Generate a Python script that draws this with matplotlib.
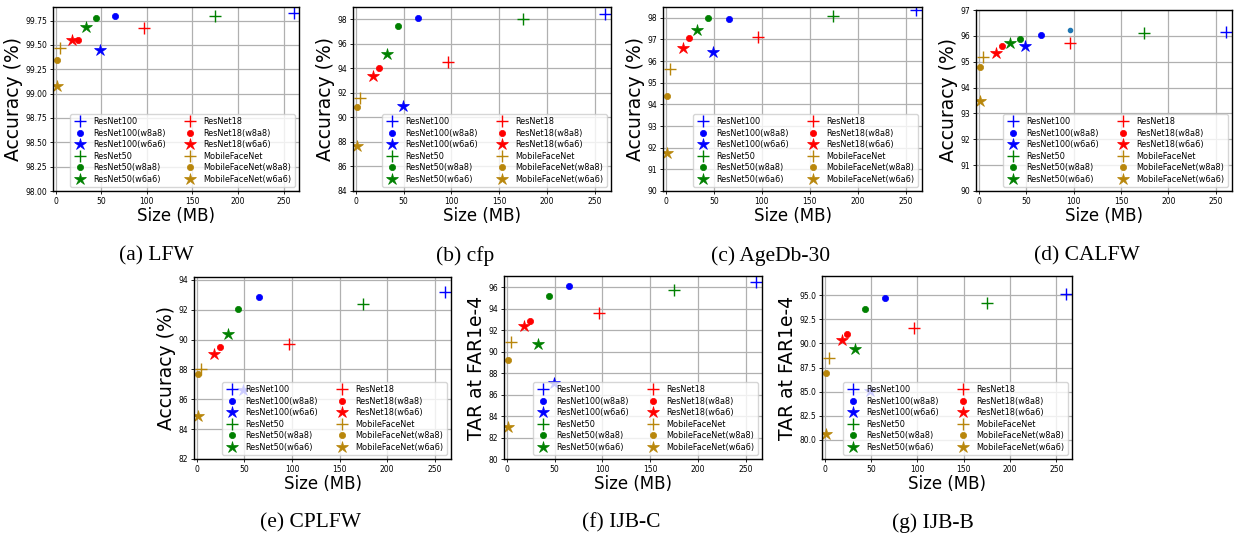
import matplotlib
matplotlib.use("Agg")
import matplotlib.pyplot as plt

# Model sizes (MB): full precision, w8a8, w6a6
SIZES = {
    "ResNet100": [261.0, 65.3, 49.0],
    "ResNet50": [174.7, 43.7, 32.8],
    "ResNet18": [96.5, 24.1, 18.1],
    "MobileFaceNet": [4.5, 1.1, 0.85],
}
MODELS = ["ResNet100", "ResNet50", "ResNet18", "MobileFaceNet"]
COLORS = ["blue", "green", "red", "#b8860b"]
VARIANTS = ["", "(w8a8)", "(w6a6)"]
MARKERS = ["+", "o", "*"]

# Scores per benchmark: model -> [full, w8a8, w6a6]
LFW = {"ResNet100": [99.83, 99.80, 99.45], "ResNet50": [99.80, 99.78, 99.68],
       "ResNet18": [99.67, 99.55, 99.55], "MobileFaceNet": [99.47, 99.35, 99.08]}
CFP = {"ResNet100": [98.41, 98.14, 90.97], "ResNet50": [98.00, 97.45, 95.20],
       "ResNet18": [94.48, 94.05, 93.36], "MobileFaceNet": [91.60, 90.85, 87.66]}
AGEDB = {"ResNet100": [98.34, 97.95, 96.43], "ResNet50": [98.08, 97.97, 97.43],
         "ResNet18": [97.12, 97.06, 96.62], "MobileFaceNet": [95.62, 94.37, 91.77]}
CALFW = {"ResNet100": [96.13, 96.04, 95.60], "ResNet50": [96.10, 95.88, 95.71],
         "ResNet18": [95.71, 95.60, 95.34], "MobileFaceNet": [95.17, 94.79, 93.50]}
CALFW_EXTRA = (95.7, 96.23)  # stray small blue dot in the original
CPLFW = {"ResNet100": [93.22, 92.89, 86.60], "ResNet50": [92.40, 92.06, 90.39],
         "ResNet18": [89.72, 89.54, 89.05], "MobileFaceNet": [88.00, 87.70, 84.87]}
IJBC = {"ResNet100": [96.47, 96.09, 87.07], "ResNet50": [95.75, 95.19, 90.73],
        "ResNet18": [93.58, 92.90, 92.43], "MobileFaceNet": [90.91, 89.24, 83.00]}
IJBB = {"ResNet100": [95.17, 94.69, 85.03], "ResNet50": [94.17, 93.61, 89.44],
        "ResNet18": [91.60, 90.97, 90.31], "MobileFaceNet": [88.50, 86.94, 80.59]}

PANELS = [
    ("(a) LFW", LFW, "Accuracy (%)", (98.0, 99.89), [98.0 + 0.25 * i for i in range(8)], "{:.2f}"),
    ("(b) cfp", CFP, "Accuracy (%)", (84, 99.0), list(range(84, 99, 2)), "{:.0f}"),
    ("(c) AgeDb-30", AGEDB, "Accuracy (%)", (90, 98.5), list(range(90, 99)), "{:.0f}"),
    ("(d) CALFW", CALFW, "Accuracy (%)", (90, 97), list(range(90, 98)), "{:.0f}"),
    ("(e) CPLFW", CPLFW, "Accuracy (%)", (82, 94.2), list(range(82, 95, 2)), "{:.0f}"),
    ("(f) IJB-C", IJBC, "TAR at FAR1e-4", (80, 97.05), list(range(80, 97, 2)), "{:.0f}"),
    ("(g) IJB-B", IJBB, "TAR at FAR1e-4", (78, 97), [80.0 + 2.5 * i for i in range(7)], "{:.1f}"),
]

# axes boxes in pixels: left, top, right, bottom ; caption centre x, y
W, H = 1239, 537
BOXES = [
    (53, 7, 299, 191, 156, 256),
    (353, 7, 611, 191, 465, 256),
    (663, 7, 922, 191, 771, 256),
    (976, 10, 1232, 191, 1087, 256),
    (194, 277, 451, 459, 310, 523),
    (504, 276, 762, 459, 621, 523),
    (822, 276, 1072, 459, 933, 523),
]

MS = {"+": 8.5, "o": 4.5, "*": 9}

fig = plt.figure(figsize=(W / 100, H / 100), dpi=100)

for (caption, data, ylabel, ylim, yticks, fmt), (l, t, r, b, cx, cy) in zip(PANELS, BOXES):
    ax = fig.add_axes([l / W, 1 - b / H, (r - l) / W, (b - t) / H])
    for model, col in zip(MODELS, COLORS):
        for k, (var, mk) in enumerate(zip(VARIANTS, MARKERS)):
            ax.plot(SIZES[model][k], data[model][k], linestyle="none", marker=mk,
                    color=col, markersize=MS[mk], markeredgewidth=1.0 if mk == "+" else 0.5,
                    label=model + var)
    if data is CALFW:
        ax.plot(*CALFW_EXTRA, linestyle="none", marker="o", color="#1f77b4", markersize=3)

    ax.set_xlim(-3, 267)
    ax.set_ylim(*ylim)
    ax.set_xticks([0, 50, 100, 150, 200, 250])
    ax.set_yticks(yticks)
    ax.set_yticklabels([fmt.format(v) for v in yticks])
    ax.tick_params(labelsize=5.5, length=2.5, width=0.6, pad=1.5)
    ax.grid(True, color="#b0b0b0", linewidth=0.9)
    ax.set_axisbelow(True)
    for s in ax.spines.values():
        s.set_linewidth(1.0)
    ax.set_xlabel("Size (MB)", fontsize=12, labelpad=1)
    ax.set_ylabel(ylabel, fontsize=13.5, labelpad=2)

    handles, labels = ax.get_legend_handles_labels()
    ax.legend(handles[:12], labels[:12], ncol=2, loc="lower right", fontsize=5.9,
              framealpha=0.8, borderpad=0.4, labelspacing=0.3, columnspacing=2.2,
              handlelength=1.6, borderaxespad=0.5)

    fig.text(cx / W, 1 - cy / H, caption, ha="center", va="center",
             fontsize=15.5, family="Liberation Serif")

fig.savefig("out.png", dpi=100)
